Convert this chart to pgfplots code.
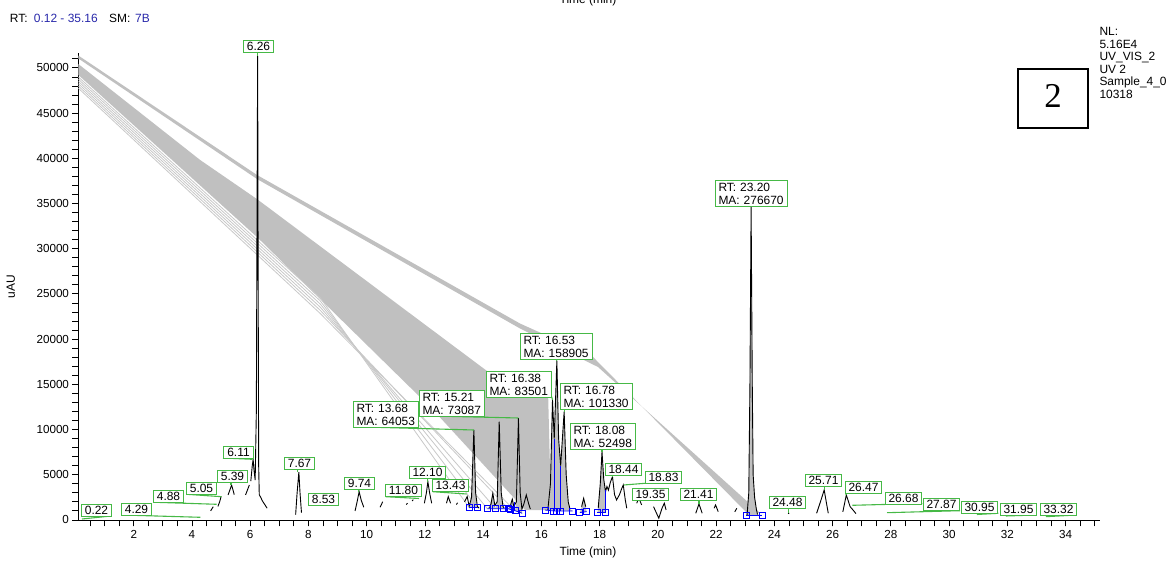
\documentclass[border=0pt]{standalone}
\usepackage{fontspec}
\setmainfont{Liberation Sans}
\newfontfamily\seriffont{Liberation Serif}
\usepackage{pgfplots}
\pgfplotsset{compat=1.18}

\definecolor{bandgray}{RGB}{192,192,192}
\definecolor{linegray}{RGB}{200,200,200}
\definecolor{lblgreen}{RGB}{70,185,70}
\definecolor{hdrblue}{RGB}{40,40,170}

% picture pixel (x from left, y from top) -> page point, axis corner at (0,0)
\newcommand\px[2]{({(#1-78.5)*1bp},{(520.5-#2)*1bp})}
\newcommand\lbl[4]{\node[lbl, minimum width=#3bp] at \px{#1}{#2} {#4};}
\newcommand\lbltwo[5]{\node[lbl2, text width=#3bp] at \px{#1}{#2} {RT: #4\\MA: #5};}
\newcommand\lead[4]{\draw[lblgreen, line width=1.1bp] \px{#1}{#2} -- \px{#3}{#4};}

\begin{document}
\begin{tikzpicture}[
    lbl/.style={draw=lblgreen, fill=white, line width=1.25bp, font=\fontsize{12}{13}\selectfont,
      outer sep=0pt, inner sep=0pt, minimum height=12bp, text height=8.6bp, text depth=0pt,
      anchor=south west},
    lbl2/.style={draw=lblgreen, fill=white, line width=1.25bp, font=\fontsize{12}{13}\selectfont,
      outer sep=0pt, inner xsep=3bp, inner ysep=0pt, minimum height=26bp, align=left,
      anchor=south west},
    hdr/.style={font=\fontsize{12}{14}\selectfont, inner sep=0pt, anchor=base west}]
\useasboundingbox \px{0}{0} rectangle \px{1168}{561};

\begin{axis}[
    scale only axis, width=1021bp, height=467bp,
    xmin=0.103, xmax=35.165, ymin=-60, ymax=51600,
    axis x line*=bottom, axis y line*=left,
    xtick={2,4,...,34}, minor xtick={0.5,1,...,35},
    ytick={0,5000,...,50000}, minor ytick={1000,2000,...,51000},
    tick align=outside, major tick length=6bp, minor tick length=6bp,
    tick style={black, line width=0.9bp},
    axis line style={black, line width=1bp},
    ticklabel style={font=\fontsize{11.7}{13}\selectfont},
    scaled ticks=false,
    /pgf/number format/assume math mode=true,
    /pgf/number format/1000 sep={},
  ]

% integration artefacts: bands and lines from the y axis
\addplot[fill=bandgray, draw=none] coordinates {
  (0.10,51370) (6.233,38160) (15.264,21730) (17.737,18140) (23.025,885)
  (23.506,774) (17.943,16920) (15.264,21180) (6.233,37715) (0.10,51040) };
\addplot[fill=bandgray, draw=none] coordinates {
  (0.10,50430) (4.28,39820) (6.23,35500) (14.13,16480) (16.23,13825)
  (16.33,1100) (15.44,1100) (12.28,12170) (6.23,31300) (0.10,49220) };
\addplot[linegray, line width=0.8bp] coordinates {(0.10,49000) (8.40,24600) (13.52,1360)};
\addplot[linegray, line width=0.8bp] coordinates {(0.10,48750) (8.40,24250) (13.81,1360)};
\addplot[linegray, line width=0.8bp] coordinates {(0.10,48500) (8.40,23900) (14.14,1250)};
\addplot[linegray, line width=0.8bp] coordinates {(0.10,48250) (8.40,23550) (14.43,1250)};
\addplot[linegray, line width=0.8bp] coordinates {(0.10,48000) (8.40,23200) (14.86,1250)};
\addplot[linegray, line width=0.8bp] coordinates {(0.10,47750) (8.40,22850) (15.09,1030)};

% integrated peak areas
\addplot[fill=bandgray, draw=none] coordinates {
  (13.52,1360) (13.60,2500) (13.68,9950) (13.74,3000) (13.80,1500) (13.81,1360) };
\addplot[fill=bandgray, draw=none] coordinates {
  (14.14,1250) (14.25,1700) (14.33,2950) (14.40,1600) (14.43,1250) };
\addplot[fill=bandgray, draw=none] coordinates {
  (14.43,1250) (14.48,2000) (14.55,10870) (14.62,3000) (14.68,1500) (14.69,1250) };
\addplot[fill=bandgray, draw=none] coordinates {
  (14.86,1250) (14.96,1900) (15.00,2300) (15.05,1500) (15.09,1030) };
\addplot[fill=bandgray, draw=none] coordinates {
  (15.09,1030) (15.14,2000) (15.21,11250) (15.27,3000) (15.33,1200) (15.34,740) };
\addplot[fill=bandgray, draw=none] coordinates {
  (16.12,1100) (16.22,1100) (16.31,4000) (16.38,13270) (16.44,9000) (16.53,17620)
  (16.59,9000) (16.66,6000) (16.78,11980) (16.85,5000) (16.92,2000) (16.98,1200) (17.07,1000) };
\addplot[fill=bandgray, draw=none] coordinates {
  (17.32,820) (17.38,1470) (17.45,2400) (17.52,1470) (17.55,920) };
\addplot[fill=bandgray, draw=none] coordinates {
  (17.92,820) (17.95,1300) (18.02,4000) (18.08,7550) (18.14,4500) (18.19,3300) (18.19,820) };
\addplot[fill=bandgray, draw=none] coordinates {
  (23.03,550) (23.12,3000) (23.16,15000) (23.20,34620) (23.24,15000) (23.27,5000)
  (23.32,2500) (23.38,1200) (23.42,600) (23.58,550) };

% chromatogram trace, in the pieces that show above the baseline
\pgfplotsset{trace/.style={black, line width=0.9bp}}
\addplot[trace] coordinates {(4.64,1000) (4.73,1470)};
\addplot[trace] coordinates {(4.89,1500) (4.95,2000) (5.00,2600)};
\addplot[trace] coordinates {(5.24,2770) (5.30,3300) (5.36,3870) (5.41,3300) (5.45,2800)};
\addplot[trace] coordinates {(5.84,2770) (5.97,3870)};
\addplot[trace] coordinates {
  (6.02,4300) (6.07,6000) (6.10,6700) (6.13,5500) (6.17,4420) (6.21,12000)
  (6.235,35000) (6.255,51300) (6.27,30000) (6.29,6000) (6.31,2800) (6.36,2500)
  (6.42,2100) (6.50,1700) (6.58,1300) };
\addplot[trace] coordinates {(7.56,600) (7.61,3000) (7.67,5300) (7.71,3000) (7.76,800)};
\addplot[trace] coordinates {(9.60,1000) (9.67,2000) (9.74,3130) (9.81,2200) (9.90,1400)};
\addplot[trace] coordinates {(10.46,1400) (10.55,2020)};
\addplot[trace] coordinates {(11.36,1700) (11.40,1850)};
\addplot[trace] coordinates {(11.56,2100) (11.60,2250)};
\addplot[trace] coordinates {(11.98,1850) (12.05,3000) (12.10,4240) (12.16,3000) (12.23,1850)};
\addplot[trace] coordinates {(12.74,1850) (12.80,2580) (12.88,1850)};
\addplot[trace] coordinates {(13.08,1700) (13.12,1900)};
\addplot[trace] coordinates {
  (13.36,2000) (13.45,2600) (13.52,1500) (13.60,2500) (13.68,9950) (13.74,3000)
  (13.80,1500) (13.86,1300) };
\addplot[trace] coordinates {
  (14.22,1300) (14.27,1800) (14.33,2950) (14.40,1600) (14.48,2000) (14.55,10870)
  (14.62,3000) (14.68,1500) (14.72,1300) };
\addplot[trace] coordinates {
  (14.92,1300) (14.96,1900) (15.00,2300) (15.05,1500) (15.14,2000) (15.21,11250)
  (15.27,3000) (15.33,1200) (15.40,1800) (15.48,2770) (15.56,1800) (15.62,1200) };
\addplot[trace] coordinates {
  (16.22,1100) (16.31,4000) (16.38,13270) (16.44,9000) (16.53,17620) (16.59,9000)
  (16.66,6000) (16.78,11980) (16.85,5000) (16.92,2000) (16.98,1200) };
\addplot[trace] coordinates {(17.38,1470) (17.45,2400) (17.52,1470)};
\addplot[trace] coordinates {
  (17.95,1300) (18.02,4000) (18.08,7550) (18.14,4500) (18.20,3130) (18.25,3700)
  (18.30,3300) (18.37,4200) (18.44,4790) (18.51,2800) (18.58,2210) (18.68,2800)
  (18.76,3500) (18.81,3870) (18.88,2200) (18.93,1290) };
\addplot[trace] coordinates {(19.27,1850) (19.35,2400) (19.44,1660)};
\addplot[trace] coordinates {(19.85,1470) (20.03,190) (20.14,1290) (20.22,1850) (20.28,1110)};
\addplot[trace] coordinates {(21.30,740) (21.41,1770) (21.52,740)};
\addplot[trace] coordinates {(21.93,1290) (21.98,1660) (22.07,920)};
\addplot[trace] coordinates {(22.64,900) (22.71,1300)};
\addplot[trace] coordinates {
  (23.06,500) (23.12,3000) (23.16,15000) (23.20,34620) (23.24,15000) (23.27,5000)
  (23.32,2500) (23.38,1200) (23.42,600) };
\addplot[trace] coordinates {(24.47,700) (24.51,760)};
\addplot[trace] coordinates {(25.45,740) (25.58,2000) (25.71,3320) (25.78,2000) (25.85,740)};
\addplot[trace] coordinates {(26.35,900) (26.47,2770) (26.60,1470) (26.70,1100) (26.80,700)};

% peak baselines and drop lines
\pgfplotsset{base/.style={blue, line width=0.8bp}}
\addplot[base] coordinates {(13.52,1360) (13.81,1360)};
\addplot[base] coordinates {(14.14,1250) (14.43,1250) (14.69,1250) (14.86,1250) (14.94,1150) (15.09,1030) (15.34,740)};
\addplot[base] coordinates {(16.12,1100) (16.41,1000) (16.50,1000) (16.66,1000) (17.07,1000)};
\addplot[base] coordinates {(17.32,820) (17.55,920)};
\addplot[base] coordinates {(17.92,820) (18.18,820)};
\addplot[base] coordinates {(23.03,550) (23.58,550)};
\addplot[base] coordinates {(15.07,1030) (15.07,2000)};
\addplot[base, line width=1bp] coordinates {(16.44,1000) (16.44,9000)};
\addplot[base, line width=1bp] coordinates {(16.66,1000) (16.66,6000)};
\addplot[base, line width=1bp] coordinates {(18.19,820) (18.19,3300)};
\addplot[only marks, mark=square, mark size=3bp, blue, mark options={line width=0.8bp}] coordinates {
  (13.52,1360) (13.81,1360) (14.14,1250) (14.43,1250) (14.69,1250) (14.86,1250)
  (14.94,1150) (15.09,1030) (15.34,740) (16.12,1100) (16.41,1000) (16.50,1000)
  (16.66,1000) (17.07,1000) (17.32,820) (17.55,920) (17.92,820) (18.18,820)
  (23.03,550) (23.58,550) };
\end{axis}

% leader lines
\lead{82}{519}{111}{516}
\lead{121.7}{515}{200.4}{517.3}
\lead{155}{502.3}{216.7}{504.3}
\lead{186.7}{494.3}{221.7}{496.7}
\lead{231}{482}{231}{485}
\lead{223}{458}{252.3}{459.3}
\lead{257.8}{52}{257.8}{56}
\lead{297.7}{469}{297.7}{471.7}
\lead{358.3}{489}{358.3}{491.7}
\lead{385.7}{496.7}{419.2}{498.5}
\lead{427.9}{478.3}{427.9}{481.7}
\lead{432.7}{491.7}{466.6}{494}
\lead{353.3}{426.7}{473.9}{430}
\lead{419}{415.7}{518.4}{418}
\lead{551.7}{396.7}{552.5}{400}
\lead{556.9}{359}{556.9}{361}
\lead{564.1}{409.3}{564.1}{411.7}
\lead{602}{449}{602}{451.7}
\lead{612.5}{475}{612.5}{476.7}
\lead{623.8}{485}{645}{483.3}
\lead{699}{500.7}{699}{504}
\lead{751}{206}{751}{207.5}
\lead{788.4}{508.3}{788.4}{513}
\lead{824.2}{486.7}{824.2}{490}
\lead{845.7}{493.3}{846.3}{495}
\lead{852.4}{505.3}{922.3}{503.5}
\lead{887}{512.7}{960}{510.7}
\lead{976.8}{514.5}{998.3}{513.3}
\lead{1005.9}{516}{1036.7}{515}
\lead{1045.8}{516.7}{1076.7}{515}

% peak labels
\lbl{81.5}{516.5}{30}{0.22}
\lbl{121.5}{515.5}{30}{4.29}
\lbl{153.5}{502.5}{30}{4.88}
\lbl{186.5}{494.5}{30}{5.05}
\lbl{217.5}{482.5}{30}{5.39}
\lbl{223.5}{458.5}{30}{6.11}
\lbl{243.5}{52.5}{30}{6.26}
\lbl{284.5}{469.5}{30}{7.67}
\lbl{308.5}{505.5}{30}{8.53}
\lbl{344.5}{489.5}{30}{9.74}
\lbl{385.5}{496.5}{36}{11.80}
\lbl{409.5}{478.5}{36}{12.10}
\lbl{432.5}{491.5}{36}{13.43}
\lbltwo{353.5}{427.5}{59}{13.68}{64053}
\lbltwo{419.5}{416.5}{59}{15.21}{73087}
\lbltwo{486.5}{397.5}{59}{16.38}{83501}
\lbltwo{520.5}{359.5}{66}{16.53}{158905}
\lbltwo{560.5}{409.5}{66}{16.78}{101330}
\lbltwo{570.5}{449.5}{59}{18.08}{52498}
\lbl{605.5}{475.5}{36}{18.44}
\lbl{645.5}{483.5}{36}{18.83}
\lbl{632.5}{500.5}{36}{19.35}
\lbl{680.5}{500.5}{36}{21.41}
\lbltwo{715.5}{206.5}{66}{23.20}{276670}
\lbl{769.5}{508.5}{36}{24.48}
\lbl{805.5}{486.5}{36}{25.71}
\lbl{845.5}{493.5}{36}{26.47}
\lbl{885.5}{504.5}{36}{26.68}
\lbl{923.5}{510.5}{36}{27.87}
\lbl{961.5}{513.5}{36}{30.95}
\lbl{1000.5}{515.5}{36}{31.95}
\lbl{1040.5}{515.5}{36}{33.32}

% header and side texts
\node[hdr] at \px{9.7}{22.5} {RT:};
\node[hdr, text=hdrblue] at \px{33.7}{22.5} {0.12 - 35.16};
\node[hdr] at \px{109}{22.5} {SM:};
\node[hdr, text=hdrblue] at \px{135}{22.5} {7B};
\node[hdr] at \px{1099.3}{35.7} {NL:};
\node[hdr] at \px{1099.3}{48.2} {5.16E4};
\node[hdr] at \px{1099.3}{60.7} {UV\_VIS\_2};
\node[hdr] at \px{1099.3}{73.2} {UV 2};
\node[hdr] at \px{1099.3}{85.7} {Sample\_4\_0};
\node[hdr] at \px{1099.3}{98.2} {10318};
\draw[black, line width=2bp] \px{1018}{69} rectangle \px{1088}{128};
\node[inner sep=0pt, anchor=base, font=\seriffont\fontsize{35}{35}\selectfont] at \px{1053}{107.3} {2};
\node[hdr, anchor=base] at \px{588}{556} {Time (min)};
\node[hdr, anchor=base] at \px{588}{3.3} {Time (min)};
\node[hdr, anchor=base, rotate=90] at \px{15}{287} {uAU};
\end{tikzpicture}
\end{document}
